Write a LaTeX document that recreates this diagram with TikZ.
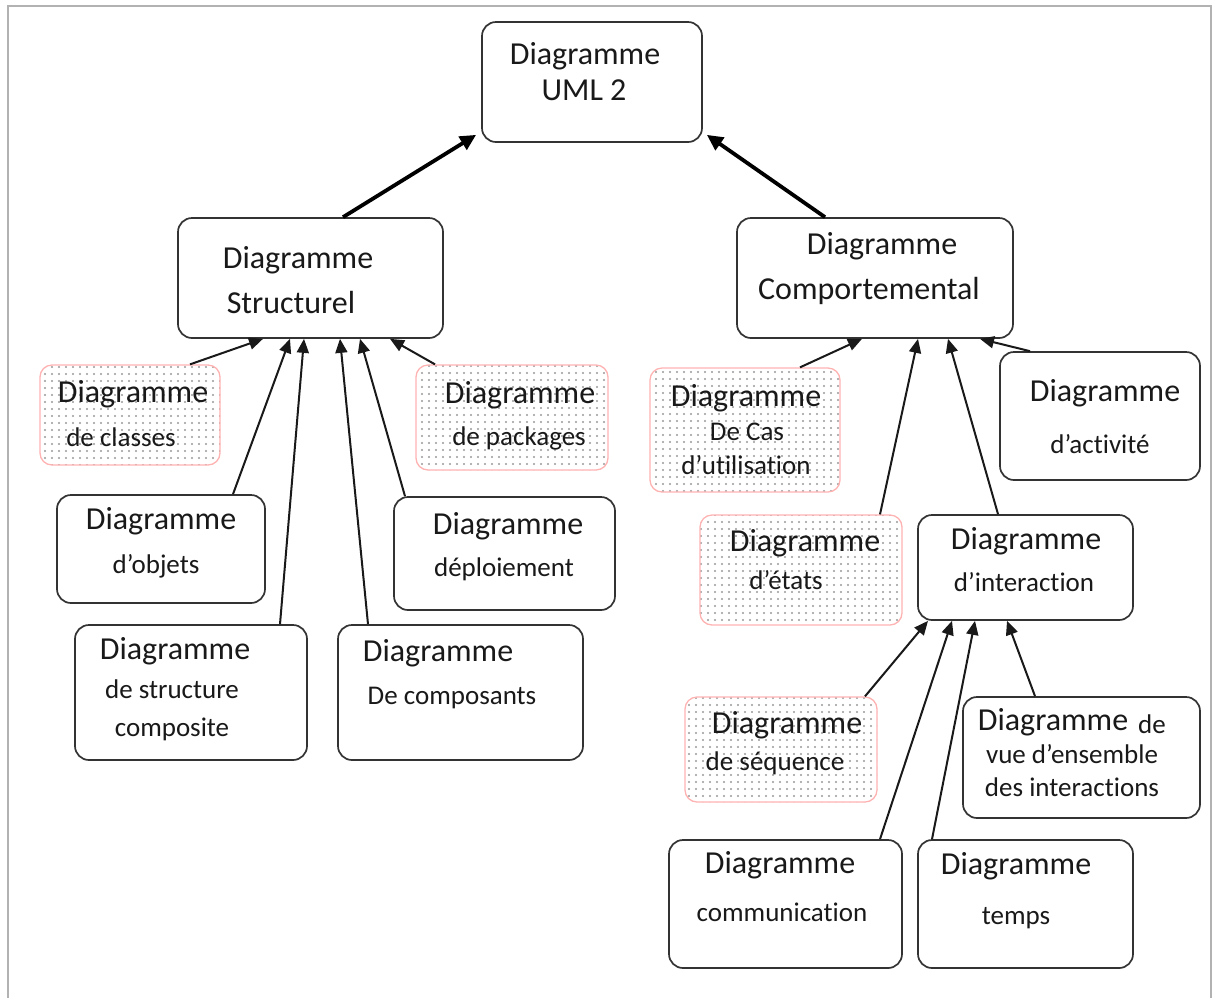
\documentclass[tikz,border=0pt]{standalone}
\usepackage{fontspec}
\setmainfont{Carlito}[RawFeature={-liga;-clig;-calt;-dlig}]
\usetikzlibrary{patterns.meta,arrows.meta}

\begin{document}
\begin{tikzpicture}[x=1pt,y=-1pt,
  box/.style={draw=black!80, line width=1.7pt, rounded corners=14pt, fill=white, inner sep=0pt},
  dotbox/.style={draw=red!30, line width=1.3pt, rounded corners=12pt, inner sep=0pt,
    pattern={Dots[distance=6.5pt, radius=1.25pt]}, pattern color=black!40},
  arr/.style={-{Triangle[length=14pt,width=12pt]}, line width=2pt, draw=black!90},
  bigarr/.style={-{Triangle[length=16pt,width=15pt]}, line width=3.8pt, draw=black},
  big/.style={font=\fontsize{32}{38}\selectfont, text=black!90, inner sep=0pt},
  sm/.style={font=\fontsize{27}{32}\selectfont, text=black!90, inner sep=0pt}]

\useasboundingbox (0,0) rectangle (1214,997);

% outer frame
\draw[gray!60, line width=1.5pt] (8,1005) -- (8,6) -- (1211,6) -- (1211,1005);

% boxes
\node[box, minimum width=220pt, minimum height=120pt] (uml) at (592,82) {};
\node[box, minimum width=265pt, minimum height=120pt] (str) at (310.5,278) {};
\node[box, minimum width=276pt, minimum height=120pt] (com) at (875,278) {};

\node[dotbox, minimum width=180pt, minimum height=100pt] (cls) at (130,415) {};
\node[dotbox, minimum width=192pt, minimum height=105pt] (pkg) at (512,417.5) {};
\node[box, minimum width=208pt, minimum height=108pt] (obj) at (161,549) {};
\node[box, minimum width=221pt, minimum height=113pt] (dep) at (504.5,553.5) {};
\node[box, minimum width=232pt, minimum height=135pt] (cps) at (191,692.5) {};
\node[box, minimum width=245pt, minimum height=135pt] (cmp) at (460.5,692.5) {};

\node[dotbox, minimum width=190pt, minimum height=124pt] (cas) at (745,430) {};
\node[box, minimum width=200pt, minimum height=128pt] (act) at (1100,416) {};
\node[dotbox, minimum width=202pt, minimum height=110pt] (eta) at (801,570) {};
\node[box, minimum width=215pt, minimum height=105pt] (int) at (1025.5,567.5) {};
\node[dotbox, minimum width=192pt, minimum height=105pt] (seq) at (781,749.5) {};
\node[box, minimum width=237pt, minimum height=121pt] (vue) at (1081.5,757.5) {};
\node[box, minimum width=233pt, minimum height=128pt] (cmn) at (785.5,904) {};
\node[box, minimum width=215pt, minimum height=128pt] (tmp) at (1025.5,904) {};

% labels
\node[big] (t-uml1) at (585,56) {Diagramme};
\node[big] (t-uml2) at (584,90) {UML 2};
\node[big] (t-str1) at (298,260) {Diagramme};
\node[big] (t-str2) at (291,302) {Structurel};
\node[big] (t-com1) at (882,246) {Diagramme};
\node[big] (t-com2) at (869,291) {Comportemental};

\node[big] (t-cls1) at (133,394) {Diagramme};
\node[sm]  (t-cls2) at (121,437) {de classes};
\node[big] (t-pkg1) at (520,395) {Diagramme};
\node[sm]  (t-pkg2) at (519,438) {de packages};
\node[big] (t-obj1) at (161,521) {Diagramme};
\node[sm]  (t-obj2) at (156,566) {d’objets};
\node[big] (t-dep1) at (508,526) {Diagramme};
\node[sm]  (t-dep2) at (504,569) {déploiement};
\node[big] (t-cps1) at (175,651) {Diagramme};
\node[sm]  (t-cps2) at (172,689) {de structure};
\node[sm]  (t-cps3) at (172,729) {composite};
\node[big] (t-cmp1) at (438,653) {Diagramme};
\node[sm]  (t-cmp2) at (452,698) {De composants};

\node[big] (t-cas1) at (746,398) {Diagramme};
\node[sm]  (t-cas2) at (747,432) {De Cas};
\node[sm]  (t-cas3) at (746,465) {d’utilisation};
\node[big] (t-act1) at (1105,393) {Diagramme};
\node[sm]  (t-act2) at (1100,444) {d’activité};
\node[big] (t-eta1) at (805,543) {Diagramme};
\node[sm]  (t-eta2) at (786,580) {d’états};
\node[big] (t-int1) at (1026,541) {Diagramme};
\node[sm]  (t-int2) at (1024,582) {d’interaction};
\node[big] (t-seq1) at (787,725) {Diagramme};
\node[sm]  (t-seq2) at (775,763) {de séquence};
\node[big] (t-vue1) at (1053,722) {Diagramme};
\node[sm]  (t-vue0) at (1152,724) {de};
\node[sm]  (t-vue2) at (1072,754) {vue d’ensemble};
\node[sm]  (t-vue3) at (1072,787) {des interactions};
\node[big] (t-cmn1) at (780,865) {Diagramme};
\node[sm]  (t-cmn2) at (782,912) {communication};
\node[big] (t-tmp1) at (1016,866) {Diagramme};
\node[sm]  (t-tmp2) at (1016,918) {temps};

% main generalisations
\draw[bigarr] ([xshift=32.5pt]str.north) -- ([xshift=-5pt,yshift=8pt]uml.south west);
\draw[bigarr] ([xshift=-50pt]com.north) -- ([xshift=4pt,yshift=8pt]uml.south east);

% structural diagrams
\draw[arr] ([xshift=60pt]cls.north)   -- ([xshift=-47.5pt]str.south);
\draw[arr] ([xshift=72pt]obj.north)   -- ([xshift=-20.5pt]str.south);
\draw[arr] ([xshift=89pt]cps.north)   -- ([xshift=-6.5pt]str.south);
\draw[arr] ([xshift=-92.5pt]cmp.north) -- ([xshift=29.5pt]str.south);
\draw[arr] ([xshift=-99.5pt]dep.north) -- ([xshift=49.5pt]str.south);
\draw[arr] ([xshift=-77pt]pkg.north)  -- ([xshift=79.5pt]str.south);

% behavioural diagrams
\draw[arr] ([xshift=55pt]cas.north)   -- ([xshift=-13pt]com.south);
\draw[arr] ([xshift=79pt]eta.north)   -- ([xshift=43pt]com.south);
\draw[arr] ([xshift=-27.5pt]int.north) -- ([xshift=73pt]com.south);
\draw[arr] ([xshift=-70pt]act.north)  -- ([xshift=105pt]com.south);

% interaction diagrams
\draw[arr] ([xshift=84pt]seq.north)   -- ([xshift=-97.5pt]int.south);
\draw[arr] ([xshift=94.5pt]cmn.north) -- ([xshift=-73.5pt]int.south);
\draw[arr] ([xshift=-93.5pt]tmp.north) -- ([xshift=-50.5pt]int.south);
\draw[arr] ([xshift=-46.5pt]vue.north) -- ([xshift=-18.5pt]int.south);

\end{tikzpicture}
\end{document}
